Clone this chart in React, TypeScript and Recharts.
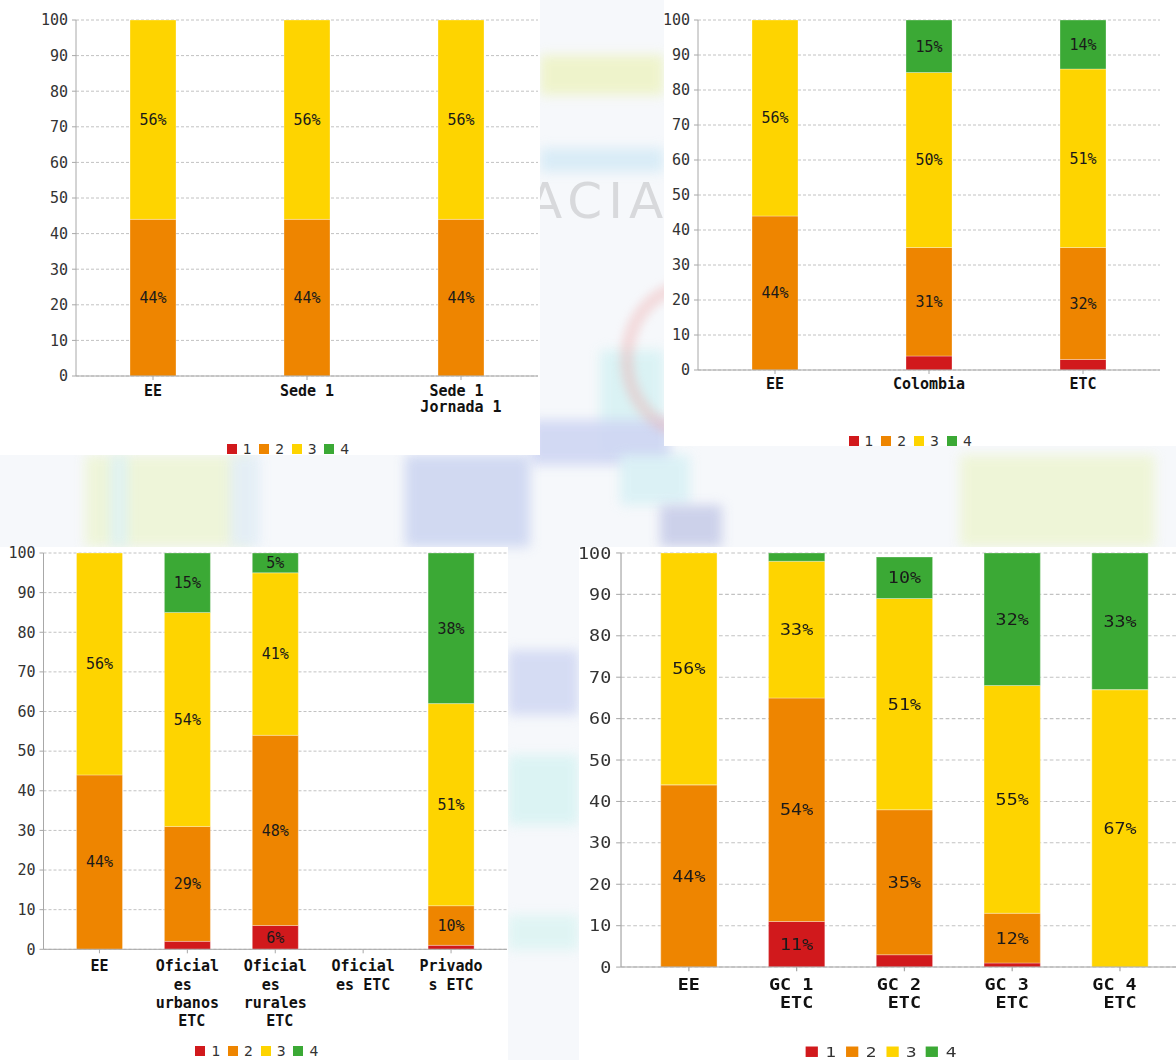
import React from "react";
import { BarChart, Bar, XAxis, YAxis, CartesianGrid, LabelList } from "recharts";

// achievement levels (legend) and their colours
const levels = ["1", "2", "3", "4"];
const levelColors = ["#d1191c", "#ee8500", "#fed400", "#3ba935"];
const yTicks = [0, 10, 20, 30, 40, 50, 60, 70, 80, 90, 100];

const MONO = "'DejaVu Sans Mono', monospace";

// chart 1: EE / sede / jornada
const sedeCats = ["EE", "Sede 1", "Sede 1 Jornada 1"];
const sedeLines = [["EE"], ["Sede 1"], ["Sede 1 ", "Jornada 1"]];
const sedeN1 = [0, 0, 0];
const sedeN2 = [44, 44, 44];
const sedeN3 = [56, 56, 56];
const sedeN4 = [0, 0, 0];

// chart 2: EE vs Colombia vs ETC
const refCats = ["EE", "Colombia", "ETC"];
const refLines = [["EE"], ["Colombia"], ["ETC"]];
const refN1 = [0, 4, 3];
const refN2 = [44, 31, 32];
const refN3 = [56, 50, 51];
const refN4 = [0, 15, 14];

// chart 3: sector / zona
const sectorCats = ["EE", "Oficiales urbanos ETC", "Oficiales rurales ETC", "Oficiales ETC", "Privados ETC"];
const sectorLines = [
  ["EE"],
  ["Oficial", "es ", "urbanos", " ETC"],
  ["Oficial", "es ", "rurales", " ETC"],
  ["Oficial", "es ETC"],
  ["Privado", "s ETC"],
];
const sectorN1 = [0, 2, 6, 0, 1];
const sectorN2 = [44, 29, 48, 0, 10];
const sectorN3 = [56, 54, 41, 0, 51];
const sectorN4 = [0, 15, 5, 0, 38];

// chart 4: grupos comparables
const gcCats = ["EE", "GC 1 ETC", "GC 2 ETC", "GC 3 ETC", "GC 4 ETC"];
const gcLines = [["EE"], ["GC 1 ", "ETC"], ["GC 2 ", "ETC"], ["GC 3 ", "ETC"], ["GC 4 ", "ETC"]];
const gcN1 = [0, 11, 3, 1, 0];
const gcN2 = [44, 54, 35, 12, 0];
const gcN3 = [56, 33, 51, 55, 67];
const gcN4 = [0, 2, 10, 32, 33];

const seriesKeys = ["n1", "n2", "n3", "n4"];

const makeRows = (cats: string[], a: number[], b: number[], c: number[], d: number[]) =>
  cats.map((name, i) => ({ name, n1: a[i], n2: b[i], n3: c[i], n4: d[i] }));

const makeLines = (cats: string[], lines: string[][]) => {
  const m: Record<string, string[]> = {};
  cats.forEach((c, i) => (m[c] = lines[i]));
  return m;
};

const CatTick = (props: any) => {
  const { x, y, payload, lines, firstDy, lineH } = props;
  const ls: string[] = lines[payload.value] || [String(payload.value)];
  return (
    <text
      x={x}
      y={y}
      textAnchor="middle"
      fontFamily={MONO}
      fontWeight="bold"
      fontSize={15}
      fill="#111"
      xmlSpace="preserve"
      style={{ whiteSpace: "pre" }}
    >
      {ls.map((l, i) => (
        <tspan key={i} x={x} dy={i === 0 ? firstDy : lineH}>
          {l}
        </tspan>
      ))}
    </text>
  );
};

const LegendRow = ({ left, top, pitch }: { left: number; top: number; pitch: number }) => (
  <div
    style={{
      position: "absolute",
      left,
      top,
      display: "flex",
      fontFamily: "'DejaVu Sans', sans-serif",
      fontSize: 14,
      color: "#333",
    }}
  >
    {levels.map((l, i) => (
      <div key={l} style={{ display: "flex", alignItems: "center", width: pitch, height: 10, lineHeight: "10px" }}>
        <span style={{ display: "inline-block", width: 10, height: 10, background: levelColors[i], marginRight: 6 }} />
        <span>{l}</span>
      </div>
    ))}
  </div>
);

const pct = (v: any) => (Number(v) >= 5 ? `${v}%` : "");

function StackChart({ cfg }: { cfg: any }) {
  return (
    <div style={{ position: "relative", width: cfg.width, height: cfg.height }}>
      <BarChart
        width={cfg.width}
        height={cfg.height}
        data={cfg.rows}
        margin={{ top: cfg.top, right: cfg.right, bottom: cfg.bottom, left: 0 }}
        barSize={cfg.barSize}
      >
        <CartesianGrid yAxisId="l" vertical={false} stroke="#c2c2c2" strokeDasharray="3 2" />
        <XAxis
          dataKey="name"
          type="category"
          interval={0}
          height={cfg.xHeight}
          padding={{ left: cfg.pad, right: cfg.pad }}
          axisLine={{ stroke: "#a8a8a8" }}
          tickLine={{ stroke: "#a8a8a8" }}
          tickSize={4}
          tick={(p: any) => <CatTick {...p} lines={cfg.lines} firstDy={cfg.firstDy} lineH={cfg.lineH} />}
        />
        <YAxis
          yAxisId="l"
          type="number"
          domain={[0, 100]}
          ticks={yTicks}
          interval={0}
          width={cfg.yWidth}
          axisLine={{ stroke: "#a8a8a8" }}
          tickLine={{ stroke: "#a8a8a8" }}
          tickSize={4}
          tickMargin={4}
          tick={{ fill: "#333", fontSize: 15, fontFamily: MONO }}
        />
        <YAxis
          yAxisId="r"
          orientation="right"
          type="number"
          domain={[0, 100]}
          width={0}
          tick={false}
          tickLine={false}
          axisLine={{ stroke: "#a8a8a8" }}
        />
        {seriesKeys.map((k, i) => (
          <Bar
            key={k}
            yAxisId="l"
            dataKey={k}
            name={levels[i]}
            stackId="s"
            fill={levelColors[i]}
            stroke="rgba(255,255,255,0.3)"
            strokeWidth={1}
            isAnimationActive={false}
          >
            <LabelList
              dataKey={k}
              position="center"
              formatter={pct}
              fill="#1a1a1a"
              fontSize={15}
              fontFamily={MONO}
            />
          </Bar>
        ))}
      </BarChart>
      <LegendRow left={cfg.legendLeft} top={cfg.legendTop} pitch={cfg.legendPitch} />
    </div>
  );
}

const chart1 = {
  rows: makeRows(sedeCats, sedeN1, sedeN2, sedeN3, sedeN4),
  lines: makeLines(sedeCats, sedeLines),
  width: 540, height: 455, top: 20, right: 2, bottom: 19, yWidth: 76, xHeight: 60, pad: 0,
  barSize: 46, firstDy: 14, lineH: 16, legendLeft: 226.7, legendTop: 444, legendPitch: 32.5,
};
const chart2 = {
  rows: makeRows(refCats, refN1, refN2, refN3, refN4),
  lines: makeLines(refCats, refLines),
  width: 512, height: 446, top: 20, right: 16, bottom: 20, yWidth: 34, xHeight: 56, pad: 0,
  barSize: 46, firstDy: 13, lineH: 16, legendLeft: 184.5, legendTop: 436, legendPitch: 32.8,
};
const chart3 = {
  rows: makeRows(sectorCats, sectorN1, sectorN2, sectorN3, sectorN4),
  lines: makeLines(sectorCats, sectorLines),
  width: 508, height: 513, top: 6, right: 1, bottom: 20.7, yWidth: 43.5, xHeight: 90, pad: 12,
  barSize: 46, firstDy: 16, lineH: 18.3, legendLeft: 195.4, legendTop: 499, legendPitch: 32.7,
};
const chart4 = {
  rows: makeRows(gcCats, gcN1, gcN2, gcN3, gcN4),
  lines: makeLines(gcCats, gcLines),
  width: 510, height: 491, top: 5.7, right: 13, bottom: 19, yWidth: 34.3, xHeight: 70, pad: 11.4,
  barSize: 46, firstDy: 16, lineH: 17.5, legendLeft: 185.3, legendTop: 477.5, legendPitch: 32.7,
};

// faded watermark behind the panels
const bgShapes = [
  { l: 540, t: 55, w: 124, h: 40, c: "#eef3c6" },
  { l: 540, t: 148, w: 124, h: 24, c: "#d6ebf6" },
  { l: 600, t: 350, w: 64, h: 105, c: "#d8f2f4" },
  { l: 530, t: 420, w: 140, h: 45, c: "#cfd6f3" },
  { l: 85, t: 455, w: 165, h: 92, c: "#eef5d6" },
  { l: 110, t: 455, w: 18, h: 92, c: "#dff2f4" },
  { l: 230, t: 455, w: 30, h: 92, c: "#e3eef8" },
  { l: 405, t: 455, w: 125, h: 92, c: "#cdd6f1" },
  { l: 620, t: 455, w: 70, h: 50, c: "#d9f1f5" },
  { l: 660, t: 505, w: 62, h: 42, c: "#c8cde9" },
  { l: 960, t: 455, w: 195, h: 92, c: "#eef5d4" },
  { l: 508, t: 650, w: 71, h: 65, c: "#d2d9f3" },
  { l: 508, t: 755, w: 71, h: 70, c: "#d9f3f3" },
  { l: 508, t: 915, w: 71, h: 35, c: "#ddf4f3" },
];

export default function App() {
  return (
    <div
      style={{
        position: "absolute",
        left: 0,
        top: 0,
        width: 1176,
        height: 1060,
        overflow: "hidden",
        background: "#f6f8fb",
      }}
    >
      <style>{`.recharts-surface { overflow: visible; }`}</style>
      {bgShapes.map((s, i) => (
        <div
          key={i}
          style={{
            position: "absolute",
            left: s.l,
            top: s.t,
            width: s.w,
            height: s.h,
            background: s.c,
            filter: "blur(6px)",
            opacity: 0.9,
          }}
        />
      ))}
      <div
        style={{
          position: "absolute",
          left: 620,
          top: 280,
          width: 110,
          height: 130,
          borderRadius: "50%",
          border: "14px solid rgba(238,165,165,0.35)",
          filter: "blur(4px)",
        }}
      />
      <div
        style={{
          position: "absolute",
          left: 528,
          top: 172,
          fontFamily: "'DejaVu Sans', sans-serif",
          fontSize: 50,
          letterSpacing: 6,
          color: "rgba(110,110,110,0.22)",
        }}
      >
        ACIA
      </div>

      <div style={{ position: "absolute", left: 0, top: 0, width: 540, height: 455, background: "#fff" }}>
        <StackChart cfg={chart1} />
      </div>
      <div style={{ position: "absolute", left: 664, top: 0, width: 512, height: 446, background: "#fff" }}>
        <StackChart cfg={chart2} />
      </div>
      <div style={{ position: "absolute", left: 0, top: 547, width: 508, height: 513, background: "#fff" }}>
        <StackChart cfg={chart3} />
      </div>
      <div style={{ position: "absolute", left: 579, top: 547, width: 597, height: 513, background: "#fff" }}>
        <div style={{ transform: "scale(1.225, 1.045)", transformOrigin: "0 0", width: 510, height: 491 }}>
          <StackChart cfg={chart4} />
        </div>
      </div>
    </div>
  );
}
